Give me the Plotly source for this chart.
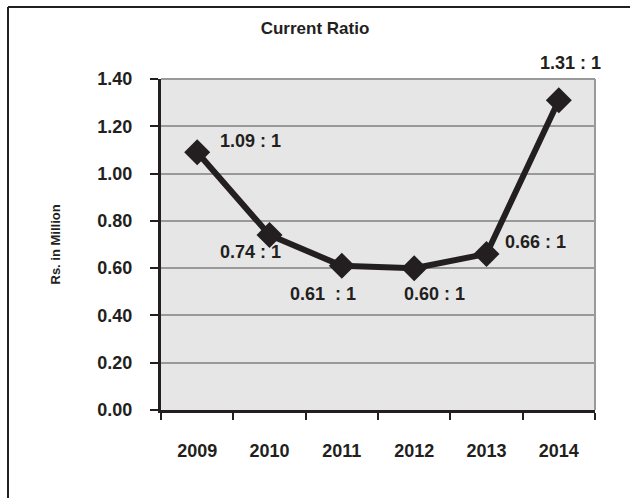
import plotly.graph_objects as go

years = ["2009", "2010", "2011", "2012", "2013", "2014"]
ratios = [1.09, 0.74, 0.61, 0.60, 0.66, 1.31]
labels = ["1.09 : 1", "0.74 : 1", "0.61  : 1", "0.60 : 1", "0.66 : 1", "1.31 : 1"]
label_dx = [53, -19, -19, 20, 49, 12]
label_dy = [11, -17, -28, -26, 12, 37]
yticks = [0, 0.2, 0.4, 0.6, 0.8, 1.0, 1.2, 1.4]

FONT = "Liberation Sans Narrow, Arial Narrow, Liberation Sans, Arial, sans-serif"
INK = "#231f20"

fig = go.Figure()
fig.add_trace(go.Scatter(
    x=years, y=ratios, mode="lines+markers",
    line=dict(color=INK, width=6),
    marker=dict(symbol="diamond", size=20, color=INK),
    showlegend=False, cliponaxis=False,
))

for i, (y, t, dx, dy) in enumerate(zip(ratios, labels, label_dx, label_dy)):
    fig.add_annotation(x=i, y=y, text=t, showarrow=False,
                       xshift=dx, yshift=dy,
                       font=dict(family=FONT, size=18, color=INK, weight="bold"))

fig.update_layout(
    width=630, height=498,
    margin=dict(l=161, r=35, t=79, b=88),
    paper_bgcolor="white", plot_bgcolor="#e6e6e7",
    font=dict(family=FONT, color=INK),
    title=dict(text="Current Ratio", x=0.5, xref="container", xanchor="center",
               y=1 - 28 / 498, yanchor="middle",
               font=dict(family=FONT, size=17, color=INK, weight="bold")),
)

fig.update_xaxes(
    type="category", categoryorder="array", categoryarray=years,
    range=[-0.5, len(years) - 0.5], autorange=False,
    tickson="boundaries", ticks="outside", ticklen=7, tickwidth=2,
    tickcolor=INK, showline=True, linecolor=INK, linewidth=3,
    showgrid=False, ticklabelstandoff=22, tickangle=0,
    tickfont=dict(family=FONT, size=18, color=INK, weight="bold"),
)
fig.update_yaxes(
    range=[0, 1.4], autorange=False, tickvals=yticks, tickformat=".2f",
    ticks="outside", ticklen=8, tickwidth=2, tickcolor=INK,
    showline=True, linecolor=INK, linewidth=3,
    showgrid=True, gridcolor="#999999", gridwidth=2, zeroline=False,
    ticklabelstandoff=14,
    tickfont=dict(family=FONT, size=18, color=INK, weight="bold"),
)
fig.add_annotation(xref="paper", yref="paper", x=(45 - 161) / 434, y=(410 - 245) / 331,
                   text="Rs. in Million", textangle=-90, showarrow=False,
                   font=dict(family=FONT, size=13, color=INK, weight="bold"))

# plot-area right/top gray border
fig.add_shape(type="line", xref="paper", yref="paper", x0=0, x1=1, y0=1, y1=1,
              line=dict(color="#999999", width=2))
fig.add_shape(type="line", xref="paper", yref="paper", x0=1, x1=1, y0=0, y1=1,
              line=dict(color="#999999", width=2))
# outer frame (top and left)
fig.add_shape(type="line", xref="paper", yref="paper",
              x0=(8 - 161) / 434, x1=(630 - 161) / 434, y0=(410 - 7) / 331, y1=(410 - 7) / 331,
              line=dict(color=INK, width=2))
fig.add_shape(type="line", xref="paper", yref="paper",
              x0=(8 - 161) / 434, x1=(8 - 161) / 434, y0=(410 - 7) / 331, y1=(410 - 500) / 331,
              line=dict(color=INK, width=2))

fig.write_html("out.html")
